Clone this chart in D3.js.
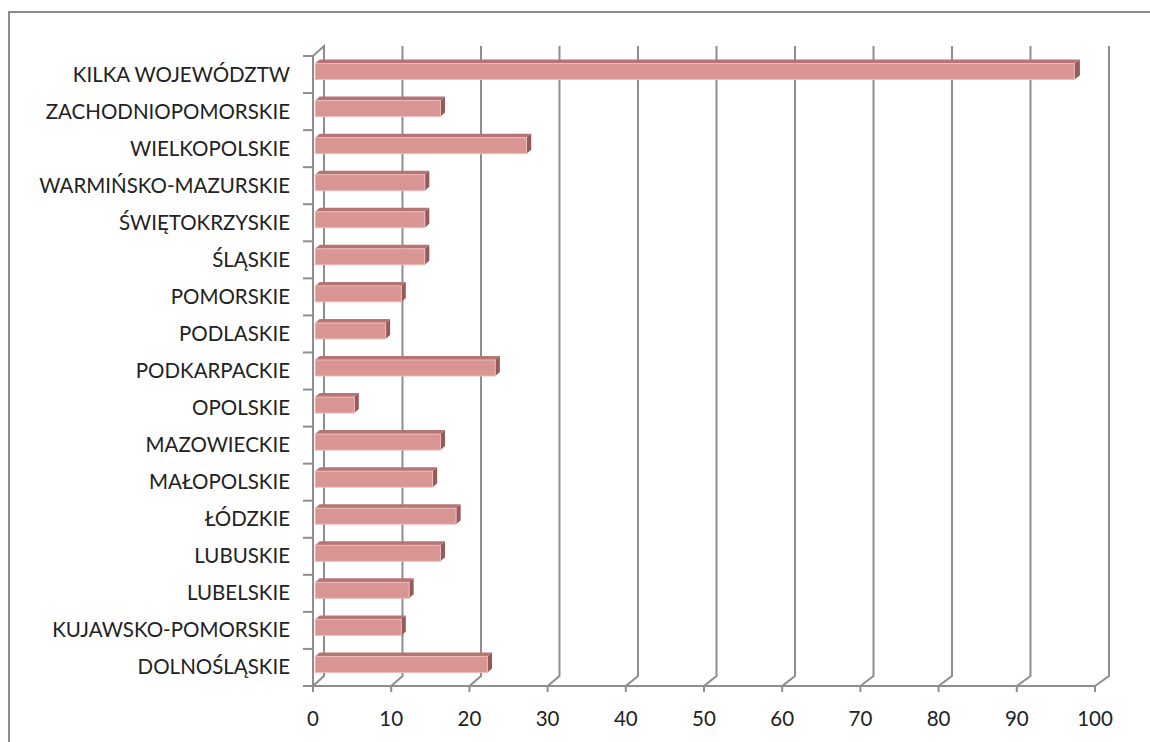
<!DOCTYPE html>
<html><head><meta charset="utf-8">
<script src="https://cdn.jsdelivr.net/npm/d3@7"></script>
<style>body{margin:0;background:#fff}svg{display:block}</style>
</head><body>
<script>
const categories = ["KILKA WOJEWÓDZTW","ZACHODNIOPOMORSKIE","WIELKOPOLSKIE","WARMIŃSKO-MAZURSKIE","ŚWIĘTOKRZYSKIE","ŚLĄSKIE","POMORSKIE","PODLASKIE","PODKARPACKIE","OPOLSKIE","MAZOWIECKIE","MAŁOPOLSKIE","ŁÓDZKIE","LUBUSKIE","LUBELSKIE","KUJAWSKO-POMORSKIE","DOLNOŚLĄSKIE"];
const values = [97,16,27,14,14,14,11,9,23,5,16,15,18,16,12,11,22];
const xTicks = [0,10,20,30,40,50,60,70,80,90,100];

const W = 1150, H = 742;
const svg = d3.select("body").append("svg").attr("width", W).attr("height", H);

// outer frame
svg.append("rect").attr("x",9).attr("y",12).attr("width",1200).attr("height",800)
  .attr("fill","none").attr("stroke","#8c8c8c").attr("stroke-width",2);

// 3D geometry: depth t in [0,1], front plane t=0, back wall t=1
const DX = 11, DY = -10;
const yTop = 56, yBot = 686;
function xAt(t){ return d3.scaleLinear().domain([0,100]).range([313 + DX*t, 1095 + 14*t]); }
const xFront = xAt(0), xBack = xAt(1);
const y = d3.scaleBand().domain(categories).range([yTop, yBot]).padding(0);

const grid = "#8e8e8e";
const font = "Lato, 'Open Sans', sans-serif";
const g = svg.append("g");

// gridlines on back wall and floor
xTicks.forEach(v => {
  g.append("path").attr("fill","none").attr("stroke",grid).attr("stroke-width",2)
   .attr("d", d3.line()([[xBack(v), yTop+DY],[xBack(v), yBot+DY],[xFront(v), yBot]]));
});
// left wall
g.append("path").attr("fill","none").attr("stroke",grid).attr("stroke-width",2)
 .attr("d", d3.line()([[xFront(0), yBot],[xFront(0), yTop],[xBack(0), yTop+DY],[xBack(0), yBot+DY]]));
// category ticks (boundaries)
d3.range(categories.length+1).forEach(i => {
  const yy = yTop + i*y.step();
  g.append("line").attr("x1", xFront(0)-10).attr("x2", xFront(0)).attr("y1", yy).attr("y2", yy)
   .attr("stroke",grid).attr("stroke-width",2);
});
// x axis line and ticks
g.append("line").attr("x1", xFront(0)).attr("x2", xFront(100)).attr("y1", yBot).attr("y2", yBot)
 .attr("stroke",grid).attr("stroke-width",2);
xTicks.forEach(v => {
  g.append("line").attr("x1", xFront(v)).attr("x2", xFront(v)).attr("y1", yBot).attr("y2", yBot+6)
   .attr("stroke",grid).attr("stroke-width",2);
  g.append("text").attr("x", xFront(v)).attr("y", 718).attr("text-anchor","middle")
   .attr("dominant-baseline","central").attr("font-family",font)
   .attr("font-size",20.5).attr("fill","#222").text(v);
});

// category labels
categories.forEach(c => {
  g.append("text").attr("x", 290).attr("y", y(c) + y.bandwidth()/2 - 1).attr("text-anchor","end")
   .attr("dominant-baseline","central").attr("font-family",font)
   .attr("font-size",20.5).attr("fill","#222").text(c);
});

// bars
const t0 = 0.2, t1 = 0.6;
const xb0 = xAt(t0), xb1 = xAt(t1);
const bars = g.append("g");
categories.forEach((c, i) => {
  const v = values[i];
  const cy = y(c) + y.bandwidth()/2;
  const oy1 = DY*(t1-t0);
  const fx0 = xb0(0), fx1 = xb0(v);
  const bx0 = xb1(0), bx1 = xb1(v);
  const ft = cy - 11, fb = cy + 5;
  // top face
  bars.append("path").attr("fill","#b57574")
    .attr("d", d3.line()([[fx0,ft],[fx1,ft],[bx1,ft+oy1],[bx0,ft+oy1]]) + "Z");
  // side face
  bars.append("path").attr("fill","#955b5a")
    .attr("d", d3.line()([[fx1,ft],[bx1,ft+oy1],[bx1,fb+oy1],[fx1,fb]]) + "Z");
  // front face
  bars.append("rect").attr("x", fx0).attr("y", ft).attr("width", fx1-fx0).attr("height", fb-ft)
    .attr("fill","#d99594").attr("stroke","#ecbcbb").attr("stroke-width",1);
});
</script>
</body></html>
